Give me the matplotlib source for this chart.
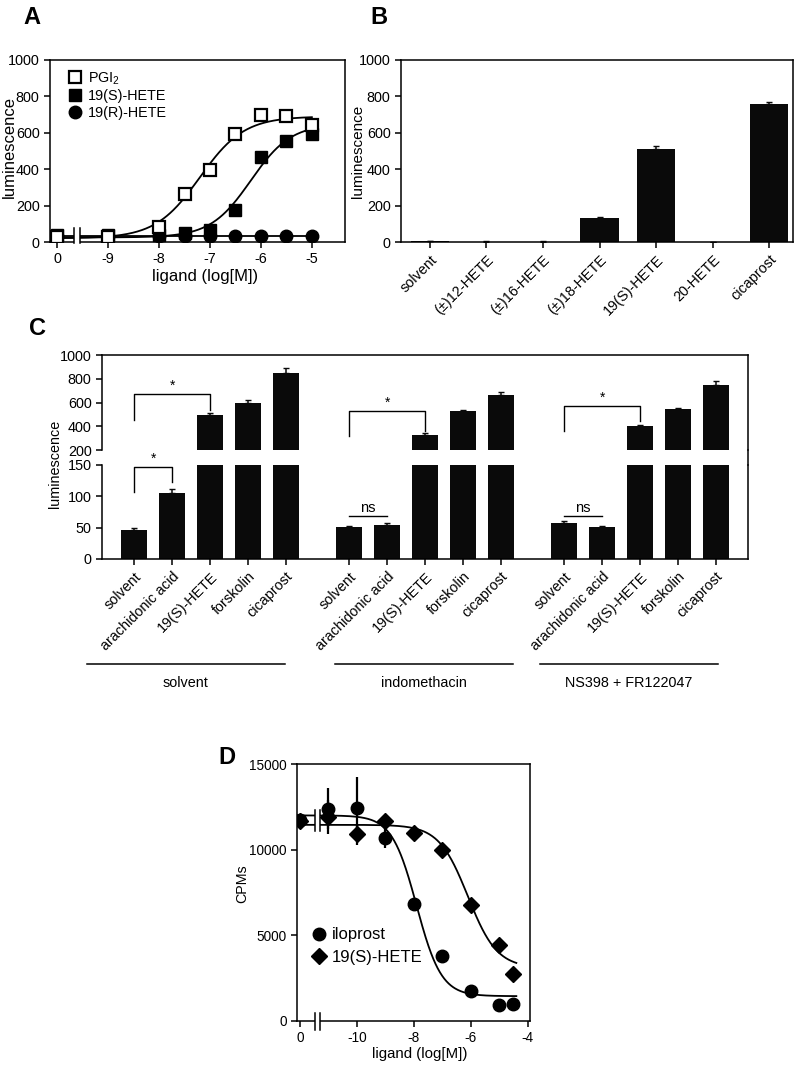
import matplotlib.pyplot as plt
import numpy as np
from matplotlib.lines import Line2D
from matplotlib.patches import Rectangle

plt.rcParams['font.family'] = ['Liberation Sans', 'DejaVu Sans']
plt.rcParams['mathtext.fontset'] = 'custom'
plt.rcParams['mathtext.rm'] = 'Liberation Sans'
plt.rcParams['font.size'] = 10.4
plt.rcParams['axes.linewidth'] = 1.1
for k in ['xtick', 'ytick']:
    plt.rcParams[k + '.major.width'] = 1.1
    plt.rcParams[k + '.major.size'] = 4
    plt.rcParams[k + '.direction'] = 'out'

W, H = 797, 1066
BAR = '#0a0a0a'

# ---- panel A : luminescence dose response (x = log[M], -10 stands for "0")
a_x = [-10, -9, -8, -7.5, -7, -6.5, -6, -5.5, -5]
a_pgi2 = [30, 30, 84, 261, 393, 591, 698, 692, 643]
a_19s = [38, 38, 40, 48, 66, 176, 469, 555, 595]
a_19r = [33, 33, 35, 35, 35, 35, 35, 35, 35]
# fitted curves: bottom, top, logEC50, hill
a_fit_pgi2 = [20, 690, -7.2, 1.0]
a_fit_19s = [25, 650, -6.2, 1.1]
a_fit_19r = [33, 33, -7.0, 1.0]
a_ticks = [-10, -9, -8, -7, -6, -5]
a_ticklabels = ['0', '-9', '-8', '-7', '-6', '-5']

# ---- panel B
b_labels = ['solvent', '(±)12-HETE', '(±)16-HETE', '(±)18-HETE',
            '19(S)-HETE', '20-HETE', 'cicaprost']
b_mean = [3, 2, 2, 134, 509, 1, 760]
b_err = [1, 1, 1, 3, 20, 1, 10]

# ---- panel C
c_groups = ['solvent', 'indomethacin', 'NS398 + FR122047']
c_treat = ['solvent', 'arachidonic acid', '19(S)-HETE', 'forskolin', 'cicaprost']
c_mean = [[47, 105, 497, 600, 845],
          [51, 55, 328, 525, 665],
          [57, 51, 398, 545, 750]]
c_err = [[2, 6, 18, 22, 45],
         [1, 3, 12, 12, 22],
         [3, 1.5, 12, 12, 32]]
# brackets: group, treat i, treat j, bar height, left leg end, right leg end, label
c_sig_upper = [(0, 0, 2, 669, 453, 537, '*'),
               (1, 0, 2, 531, 320, 362, '*'),
               (2, 0, 2, 570, 362, 444, '*')]
c_sig_lower = [(0, 0, 1, 147, 107, 123, '*'),
               (1, 0, 1, 68, 68, 68, 'ns'),
               (2, 0, 1, 68, 68, 68, 'ns')]

# ---- panel D : binding competition (x = log[M], -12 stands for "0")
d_x = [-12, -11, -10, -9, -8, -7, -6, -5, -4.5]
d_ilo = [11750, 12400, 12450, 10700, 6800, 3800, 1750, 950, 1000]
d_ilo_err = [300, 1200, 1800, 600, 250, 350, 200, 100, 100]
d_19s = [11700, 11900, 10900, 11700, 10950, 10000, 6750, 4450, 2750]
d_19s_err = [300, 1000, 600, 300, 300, 350, 400, 200, 200]
d_fit_ilo = [1450, 12000, -7.9, -1.0]
d_fit_19s = [3100, 11450, -6.1, -0.85]
d_ticks = [-12, -10, -8, -6, -4]
d_ticklabels = ['0', '-10', '-8', '-6', '-4']


def logistic(x, p):
    bottom, top, c, h = p
    return bottom + (top - bottom) / (1 + 10 ** ((c - x) * h))


def rect(l, t, r, b):
    return [l / W, 1 - b / H, (r - l) / W, (b - t) / H]


def axis_break(ax, x0, x1, y0, y1):
    ax.add_patch(Rectangle((x0, y0), x1 - x0, y1 - y0, facecolor='white',
                           edgecolor='none', zorder=4, clip_on=False))
    for xb in (x0, x1):
        ax.plot([xb, xb], [y0, y1], color='k', lw=1.1, zorder=5, clip_on=False)


fig = plt.figure(figsize=(W / 100, H / 100), dpi=100)

# ================= A
axA = fig.add_axes(rect(50, 60, 345, 242))
xx = np.linspace(-10.14, -5, 400)
axA.plot(xx, logistic(xx, a_fit_pgi2), color='k', lw=1.3)
axA.plot(xx, logistic(xx, a_fit_19s), color='k', lw=1.3)
axA.plot(xx, logistic(xx, a_fit_19r), color='k', lw=1.3)
h3, = axA.plot(a_x, a_19r, 'o', color='k', ms=9, zorder=6)
h2, = axA.plot(a_x, a_19s, 's', color='k', ms=9, zorder=7)
h1, = axA.plot(a_x, a_pgi2, 's', mfc='white', mec='k', mew=1.6, ms=9, zorder=8)
axis_break(axA, -9.66, -9.55, -6, 78)
axA.set_xlim(-10.14, -4.35)
axA.set_ylim(0, 1000)
axA.set_xticks(a_ticks)
axA.set_xticklabels(a_ticklabels)
axA.set_yticks(range(0, 1001, 200))
axA.set_xlabel('ligand (log[M])', fontsize=12)
axA.set_ylabel('luminescence', fontsize=12)
axA.xaxis.set_label_coords(0.525, -0.15)
axA.yaxis.set_label_coords(-0.112, 0.52)
axA.legend([h1, h2, h3], ['PGI$_2$', '19(S)-HETE', '19(R)-HETE'],
           loc='upper left', bbox_to_anchor=(0.03, 1.0), frameon=False,
           handlelength=0.8, handletextpad=0.5, labelspacing=0.2,
           borderaxespad=0.3)

# ================= B
axB = fig.add_axes(rect(401, 60, 793, 242))
bx = np.arange(len(b_labels))
axB.bar(bx, b_mean, width=0.68, color=BAR)
axB.errorbar(bx, b_mean, yerr=[np.zeros(len(b_err)), b_err], fmt='none',
             ecolor=BAR, elinewidth=1.1, capsize=2)
axB.set_xlim(-0.51, 6.42)
axB.set_ylim(0, 1000)
axB.set_yticks(range(0, 1001, 200))
axB.set_xticks(bx)
axB.set_xticklabels(b_labels, rotation=45, ha='right', rotation_mode='anchor')
axB.set_ylabel('luminescence', fontsize=11)
axB.yaxis.set_label_coords(-0.093, 0.5)

# ================= C
axCu = fig.add_axes(rect(102, 355, 748, 450))
axCl = fig.add_axes(rect(102, 465, 748, 559))
gap = 5.67
c_pos = [[g * gap + i for i in range(len(c_treat))] for g in range(len(c_groups))]
for ax in (axCu, axCl):
    for g in range(len(c_groups)):
        ax.bar(c_pos[g], c_mean[g], width=0.68, color=BAR)
        ax.errorbar(c_pos[g], c_mean[g],
                    yerr=[np.zeros(len(c_err[g])), c_err[g]], fmt='none',
                    ecolor=BAR, elinewidth=1.1, capsize=2.5)
    ax.set_xlim(-0.85, 16.19)
axCu.set_ylim(200, 1000)
axCu.set_yticks(range(200, 1001, 200))
axCu.spines['bottom'].set_visible(False)
axCu.set_xticks([])
axCl.set_ylim(0, 150)
axCl.set_yticks([0, 50, 100, 150])
axCl.spines['top'].set_visible(False)
axCl.set_xticks([p for g in c_pos for p in g])
axCl.set_xticklabels(c_treat * len(c_groups), rotation=45, ha='right',
                     rotation_mode='anchor')
fig.add_artist(Line2D([748 / W, 748 / W], [1 - 450 / H, 1 - 465 / H],
                      color='k', lw=1.1))
fig.text(55 / W, 1 - 464 / H, 'luminescence', rotation=90,
         ha='center', va='center')

for ax, sigs, dy in ((axCu, c_sig_upper, 10), (axCl, c_sig_lower, 2)):
    for g, i, j, yh, yl, yr, lab in sigs:
        x1, x2 = c_pos[g][i], c_pos[g][j]
        ax.plot([x1, x1, x2, x2], [yl, yh, yh, yr], color='k', lw=1.0,
                clip_on=False)
        ax.text((x1 + x2) / 2, yh + dy, lab, ha='center', va='bottom',
                fontsize=10 if lab == '*' else 10.5, clip_on=False)

group_spans = [(-1.25, 3.97), (5.3, 10.0), (10.7, 15.4)]
trans = axCl.get_xaxis_transform()
for (s0, s1), name in zip(group_spans, c_groups):
    axCl.plot([s0, s1], [-1.117, -1.117], color='k', lw=1.1,
              transform=trans, clip_on=False)
    axCl.text((s0 + s1) / 2, -1.32, name, ha='center', va='center',
              transform=trans)

# ================= D
axD = fig.add_axes(rect(297, 764, 530, 1021))
xd = np.linspace(-12.1, -4.4, 400)
axD.plot(xd, logistic(xd, d_fit_ilo), color='k', lw=1.3)
axD.plot(xd, logistic(xd, d_fit_19s), color='k', lw=1.3)
axD.errorbar(d_x, d_ilo, yerr=d_ilo_err, fmt='none', ecolor='k',
             elinewidth=1.6, capsize=0)
axD.errorbar(d_x, d_19s, yerr=d_19s_err, fmt='none', ecolor='k',
             elinewidth=1.6, capsize=0)
hd1, = axD.plot(d_x, d_ilo, 'o', color='k', ms=9, zorder=6)
hd2, = axD.plot(d_x, d_19s, 'D', color='k', ms=8, zorder=6)
axis_break(axD, -11.47, -11.30, 11100, 12300)
axis_break(axD, -11.47, -11.30, -550, 450)
axD.set_xlim(-12.1, -3.92)
axD.set_ylim(0, 15000)
axD.set_xticks(d_ticks)
axD.set_xticklabels(d_ticklabels)
axD.tick_params(labelsize=9.8)
axD.set_yticks([0, 5000, 10000, 15000])
axD.set_xlabel('ligand (log[M])', fontsize=10.8)
axD.set_ylabel('CPMs', fontsize=10.3)
axD.xaxis.set_label_coords(0.527, -0.10)
axD.yaxis.set_label_coords(-0.205, 0.535)
axD.legend([hd1, hd2], ['iloprost', '19(S)-HETE'], loc='lower left',
           bbox_to_anchor=(0.0, 0.16), frameon=False, handlelength=0.8,
           handletextpad=0.4, labelspacing=0.45, fontsize=12)

# panel letters
for lab, x, y in (('A', 32, 17), ('B', 379, 17), ('C', 37, 329), ('D', 227, 757)):
    fig.text(x / W, 1 - y / H, lab, fontsize=17, fontweight='bold',
             ha='center', va='center')

plt.savefig('out.png', dpi=100)
